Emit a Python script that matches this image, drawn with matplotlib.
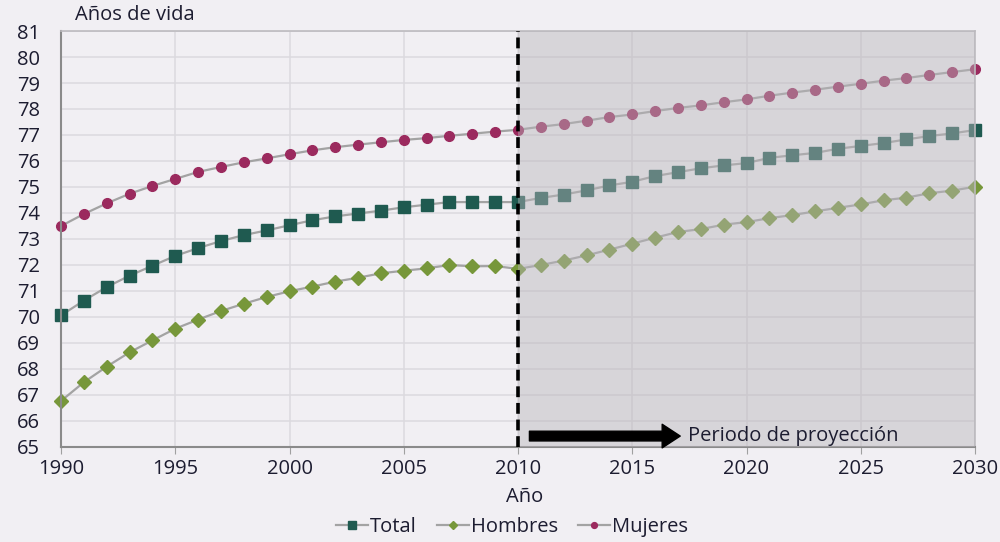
import numpy as np
import matplotlib
matplotlib.use("Agg")
import matplotlib.pyplot as plt

years = list(range(1990, 2031))

total = [70.06, 70.63, 71.15, 71.59, 71.97, 72.35, 72.65, 72.92, 73.15, 73.33,
         73.53, 73.72, 73.87, 73.98, 74.09, 74.22, 74.32, 74.42, 74.42, 74.42,
         74.42, 74.58, 74.71, 74.87, 75.06, 75.20, 75.42, 75.57, 75.72, 75.83,
         75.92, 76.12, 76.22, 76.31, 76.47, 76.58, 76.69, 76.83, 76.96, 77.06,
         77.19]
hombres = [66.77, 67.49, 68.09, 68.64, 69.10, 69.55, 69.90, 70.23, 70.51, 70.77,
           70.99, 71.17, 71.36, 71.51, 71.68, 71.78, 71.87, 72.00, 71.95, 71.96,
           71.85, 72.00, 72.17, 72.37, 72.59, 72.82, 73.05, 73.27, 73.38, 73.55,
           73.65, 73.80, 73.92, 74.06, 74.20, 74.33, 74.49, 74.59, 74.76, 74.86,
           75.01]
mujeres = [73.50, 73.96, 74.37, 74.74, 75.04, 75.31, 75.58, 75.77, 75.95, 76.10,
           76.26, 76.41, 76.53, 76.63, 76.72, 76.81, 76.88, 76.97, 77.05, 77.13,
           77.20, 77.32, 77.42, 77.55, 77.69, 77.79, 77.92, 78.04, 78.14, 78.26,
           78.37, 78.51, 78.63, 78.74, 78.86, 78.97, 79.09, 79.19, 79.31, 79.42,
           79.53]

x_ticks = [1990, 1995, 2000, 2005, 2010, 2015, 2020, 2025, 2030]
y_ticks = list(range(65, 82))
proj_start = 2010

bg = "#f1eff3"
txt = "#1c1c30"
fs = 14.5
plt.rcParams["font.family"] = ["Open Sans", "DejaVu Sans"]

fig = plt.figure(figsize=(10, 5.42), dpi=100, facecolor=bg)
ax = fig.add_axes([0.061, 0.1753, 0.914, 0.7675])
ax.set_facecolor(bg)

ax.plot(years, total, color="#a3a3a3", lw=1.6, marker="s", ms=8.5,
        mfc="#1f5a50", mec="#1f5a50", label="Total", zorder=2, clip_on=False)
ax.plot(years, hombres, color="#a3a3a3", lw=1.6, marker="D", ms=7.5,
        mfc="#77973a", mec="#77973a", label="Hombres", zorder=2, clip_on=False)
ax.plot(years, mujeres, color="#a3a3a3", lw=1.6, marker="o", ms=7,
        mfc="#9b2a5e", mec="#9b2a5e", label="Mujeres", zorder=2, clip_on=False)

# projection shading over the marks
ax.axvspan(proj_start, years[-1], color="#b9b6bb", alpha=0.45, lw=0, zorder=3)
ax.axvline(proj_start, color="black", lw=2.6, ls=(0, (3, 1.6)), zorder=4)

ax.annotate("", xy=(2017.1, 65.42), xytext=(2010.5, 65.42),
            arrowprops=dict(width=7, headwidth=17, headlength=13,
                            color="black", shrink=0), zorder=5)
ax.text(2017.45, 65.42, "Periodo de proyección", fontsize=fs, color=txt,
        va="center", ha="left", zorder=5)

ax.set_xlim(1990, 2030)
ax.set_ylim(65, 81)
ax.set_xticks(x_ticks)
ax.set_yticks(y_ticks)
ax.grid(True, color="#dcdadf", lw=1.1, zorder=0)
ax.set_axisbelow(True)
ax.tick_params(axis="x", length=5, color="#a0a0a0", labelsize=fs,
               labelcolor=txt, pad=4)
ax.tick_params(axis="y", length=0, labelsize=fs, labelcolor=txt, pad=15)
for s in ["left", "bottom"]:
    ax.spines[s].set_color("#8a8a8a")
    ax.spines[s].set_linewidth(1.5)
for s in ["top", "right"]:
    ax.spines[s].set_color("#bdbbbf")
    ax.spines[s].set_linewidth(1.2)

fig.text(0.075, 0.972, "Años de vida", fontsize=fs, color=txt, va="center")
fig.text(0.525, 0.083, "Año", fontsize=fs, color=txt, ha="center", va="center")

fig.legend(loc="center", bbox_to_anchor=(0.512, 0.027), ncol=3, frameon=False,
           fontsize=fs, handlelength=1.6, handletextpad=0.1,
           columnspacing=1.0, markerscale=0.6, labelcolor=txt)

fig.savefig("out.png", dpi=100, facecolor=bg)
